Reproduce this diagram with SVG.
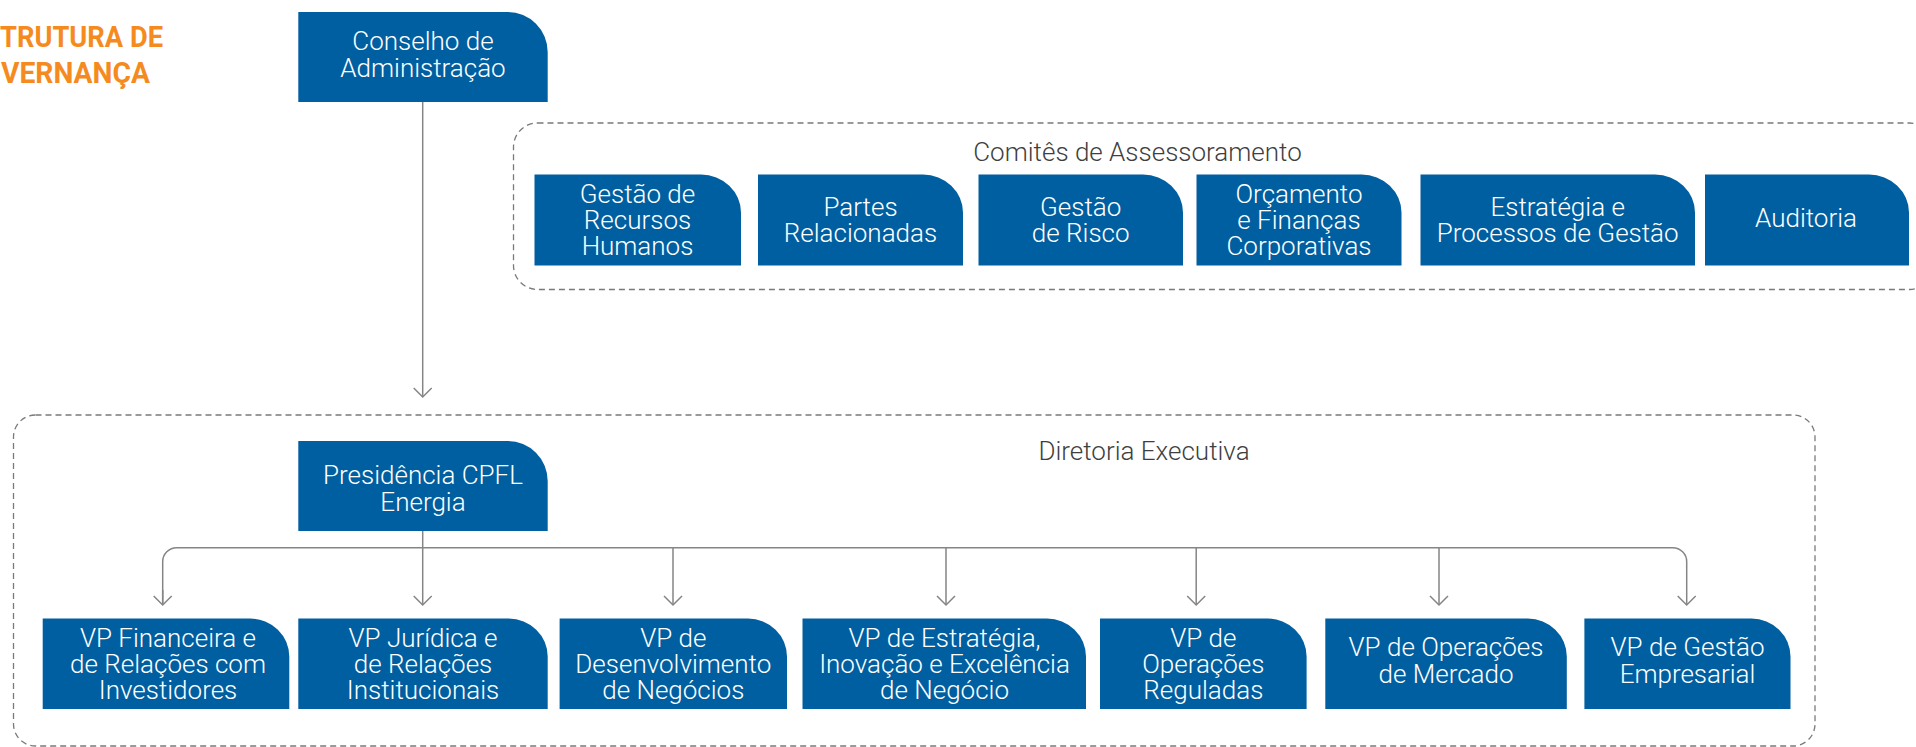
<svg xmlns="http://www.w3.org/2000/svg" width="1916" height="747" viewBox="0 0 1916 747">
<defs>
<style>
.box{fill:#005fa1;}
.bt{font-family:Roboto,"Liberation Sans",sans-serif;font-size:26px;font-weight:300;fill:#ffffff;text-anchor:middle;}
.lab{font-family:Roboto,"Liberation Sans",sans-serif;font-size:26px;font-weight:300;fill:#3f3f3f;text-anchor:middle;}
.title{font-family:Roboto,"Liberation Sans",sans-serif;font-size:30px;font-weight:700;fill:#f58b1f;}
.dash{fill:none;stroke:#7a7a7a;stroke-width:1.3;stroke-dasharray:6 4;}
.con{fill:none;stroke:#858585;stroke-width:1.5;}
</style>
<marker id="arr" markerUnits="userSpaceOnUse" markerWidth="20" markerHeight="20" refX="10" refY="10" orient="auto">
<path d="M1,1 L10,10 L1,19" fill="none" stroke="#858585" stroke-width="1.5"/>
</marker>
</defs>

<g id="title">
<text class="title" x="0" y="46.7" textLength="163" lengthAdjust="spacingAndGlyphs">TRUTURA DE</text>
<text class="title" x="1" y="82.7" textLength="149" lengthAdjust="spacingAndGlyphs">VERNANÇA</text>
</g>

<g id="containers">
<rect id="comites" class="dash" x="513.5" y="123" width="1420" height="166.5" rx="24"/>
<text class="lab" x="1137.5" y="160.7">Comitês de Assessoramento</text>
<rect id="diretoria" class="dash" x="13.5" y="415" width="1801.5" height="331" rx="22"/>
<text class="lab" x="1144" y="460">Diretoria Executiva</text>
</g>

<g id="connectors">
<path class="con" d="M422.7,102 V397" marker-end="url(#arr)"/>
<path class="con" d="M422.7,531 V605" marker-end="url(#arr)"/>
<path class="con" d="M162.7,605 V561.7 A14,14 0 0 1 176.7,547.7 H1672.7 A14,14 0 0 1 1686.7,561.7 V605" marker-end="url(#arr)"/>
<path class="con" d="M162.7,590 V605" marker-end="url(#arr)"/>
<path class="con" d="M673,547.7 V605" marker-end="url(#arr)"/>
<path class="con" d="M946,547.7 V605" marker-end="url(#arr)"/>
<path class="con" d="M1196.2,547.7 V605" marker-end="url(#arr)"/>
<path class="con" d="M1439,547.7 V605" marker-end="url(#arr)"/>
</g>

<g id="conselho">
<path class="box" d="M298.3,12 H507.7 A40,40 0 0 1 547.7,52 V102 H298.3 Z"/>
<text class="bt" x="423" y="50">Conselho de</text>
<text class="bt" x="423" y="77">Administração</text>
</g>

<g id="c-rh">
<path class="box" d="M534.5,174.5 H701 A40,38 0 0 1 741,212.5 V265.5 H534.5 Z"/>
<text class="bt" x="637.5" y="202.5">Gestão de</text>
<text class="bt" x="637.5" y="228.5">Recursos</text>
<text class="bt" x="637.5" y="254.5">Humanos</text>
</g>
<g id="c-partes">
<path class="box" d="M758,174.5 H923 A40,38 0 0 1 963,212.5 V265.5 H758 Z"/>
<text class="bt" x="860.5" y="216">Partes</text>
<text class="bt" x="860.5" y="242">Relacionadas</text>
</g>
<g id="c-risco">
<path class="box" d="M978.5,174.5 H1143 A40,38 0 0 1 1183,212.5 V265.5 H978.5 Z"/>
<text class="bt" x="1080.7" y="216">Gestão</text>
<text class="bt" x="1080.7" y="242">de Risco</text>
</g>
<g id="c-orcamento">
<path class="box" d="M1196.5,174.5 H1361.5 A40,38 0 0 1 1401.5,212.5 V265.5 H1196.5 Z"/>
<text class="bt" x="1299" y="202.5">Orçamento</text>
<text class="bt" x="1299" y="228.5">e Finanças</text>
<text class="bt" x="1299" y="254.5">Corporativas</text>
</g>
<g id="c-estrategia">
<path class="box" d="M1420.5,174.5 H1655 A40,38 0 0 1 1695,212.5 V265.5 H1420.5 Z"/>
<text class="bt" x="1557.7" y="216">Estratégia e</text>
<text class="bt" x="1557.7" y="242">Processos de Gestão</text>
</g>
<g id="c-auditoria">
<path class="box" d="M1705,174.5 H1869 A40,38 0 0 1 1909,212.5 V265.5 H1705 Z"/>
<text class="bt" x="1806" y="227">Auditoria</text>
</g>

<g id="presidencia">
<path class="box" d="M298.3,441 H507.7 A40,40 0 0 1 547.7,481 V531 H298.3 Z"/>
<text class="bt" x="423" y="484">Presidência CPFL</text>
<text class="bt" x="423" y="510.7">Energia</text>
</g>

<g id="vp-financeira">
<path class="box" d="M42.7,618.5 H250.3 A39,38 0 0 1 289.3,656.5 V709 H42.7 Z"/>
<text class="bt" x="168" y="646.7">VP Financeira e</text>
<text class="bt" x="168" y="673">de Relações com</text>
<text class="bt" x="168" y="699.3">Investidores</text>
</g>
<g id="vp-juridica">
<path class="box" d="M298.3,618.5 H508.7 A39,38 0 0 1 547.7,656.5 V709 H298.3 Z"/>
<text class="bt" x="423" y="646.7">VP Jurídica e</text>
<text class="bt" x="423" y="673">de Relações</text>
<text class="bt" x="423" y="699.3">Institucionais</text>
</g>
<g id="vp-desenvolvimento">
<path class="box" d="M559.6,618.5 H748 A39,38 0 0 1 787,656.5 V709 H559.6 Z"/>
<text class="bt" x="673.3" y="646.7">VP de</text>
<text class="bt" x="673.3" y="673">Desenvolvimento</text>
<text class="bt" x="673.3" y="699.3">de Negócios</text>
</g>
<g id="vp-estrategia">
<path class="box" d="M802.5,618.5 H1047 A39,38 0 0 1 1086,656.5 V709 H802.5 Z"/>
<text class="bt" x="944.5" y="646.7">VP de Estratégia,</text>
<text class="bt" x="944.5" y="673">Inovação e Excelência</text>
<text class="bt" x="944.5" y="699.3">de Negócio</text>
</g>
<g id="vp-reguladas">
<path class="box" d="M1100,618.5 H1267.6 A39,38 0 0 1 1306.6,656.5 V709 H1100 Z"/>
<text class="bt" x="1203.3" y="646.7">VP de</text>
<text class="bt" x="1203.3" y="673">Operações</text>
<text class="bt" x="1203.3" y="699.3">Reguladas</text>
</g>
<g id="vp-mercado">
<path class="box" d="M1325.3,618.5 H1527.8 A39,38 0 0 1 1566.8,656.5 V709 H1325.3 Z"/>
<text class="bt" x="1446" y="656">VP de Operações</text>
<text class="bt" x="1446" y="682.5">de Mercado</text>
</g>
<g id="vp-gestao">
<path class="box" d="M1584.4,618.5 H1751.5 A39,38 0 0 1 1790.5,656.5 V709 H1584.4 Z"/>
<text class="bt" x="1687.5" y="656">VP de Gestão</text>
<text class="bt" x="1687.5" y="682.5">Empresarial</text>
</g>
</svg>
